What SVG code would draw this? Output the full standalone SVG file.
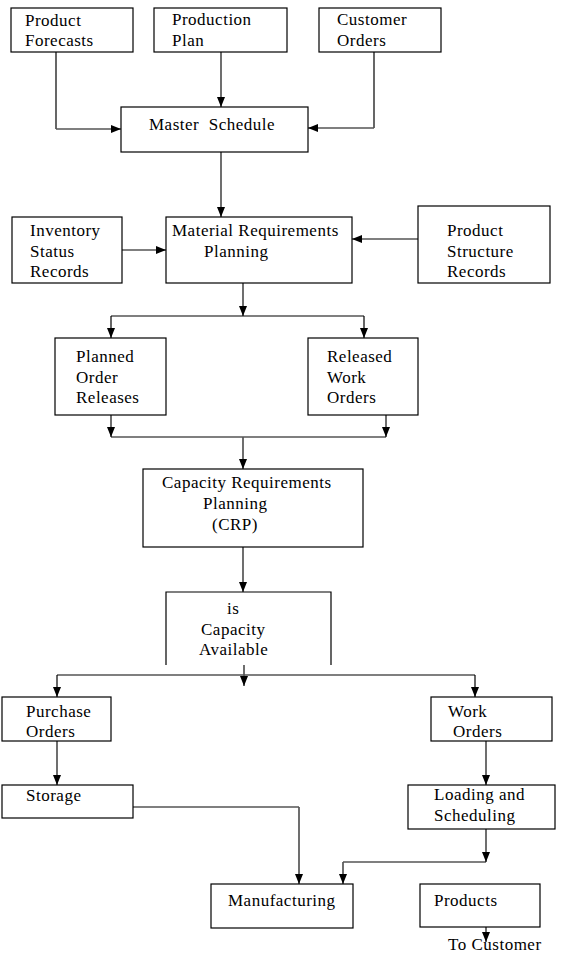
<svg xmlns="http://www.w3.org/2000/svg" width="587" height="957" viewBox="0 0 587 957">
<style>
  .box { fill: #fff; stroke: #000; stroke-width: 1.2; }
  .open { fill: none; stroke: #000; stroke-width: 1.2; }
  text { font-family: "Liberation Serif", "DejaVu Serif", serif; font-size: 17px; letter-spacing: 0.5px; fill: #000; white-space: pre; }
  .k { fill: none; stroke: #000; stroke-width: 1.2; }
  .g { fill: none; stroke: #555; stroke-width: 1.7; }
  .a { marker-end: url(#arr); }
</style>
<defs>
  <marker id="arr" markerUnits="userSpaceOnUse" markerWidth="10" markerHeight="10" viewBox="0 0 10 10" refX="10" refY="5" orient="auto">
    <path d="M0,1 L10,5 L0,9 Z" fill="#000"/>
  </marker>
</defs>
<rect width="587" height="957" fill="#fff"/>

<g id="connectors">
  <path class="k" d="M56,52 V129"/>
  <path class="g a" d="M56,129 H121"/>
  <path class="g a" d="M221,52 V107"/>
  <path class="k" d="M374,52 V128"/>
  <path class="g a" d="M374,128 H308"/>
  <path class="g a" d="M221,152 V217"/>
  <path class="g a" d="M122,250 H166"/>
  <path class="g a" d="M418,239 H352"/>
  <path class="g a" d="M243,283 V316"/>
  <path class="k" d="M111,316 H364"/>
  <path class="k a" d="M111,316 V338"/>
  <path class="k a" d="M364,316 V338"/>
  <path class="g a" d="M111,415 V437"/>
  <path class="g a" d="M386,415 V437"/>
  <path class="k" d="M111,437 H386"/>
  <path class="g a" d="M243,437 V469"/>
  <path class="g a" d="M243,547 V592"/>
  <path class="k" d="M57,675 H475"/>
  <path class="g a" d="M244,665 V686"/>
  <path class="k a" d="M57,675 V697"/>
  <path class="k a" d="M475,675 V697"/>
  <path class="g a" d="M57,741 V785"/>
  <path class="k" d="M133,807 H299"/>
  <path class="g a" d="M299,807 V884"/>
  <path class="g a" d="M486,741 V785"/>
  <path class="g a" d="M486,829 V862"/>
  <path class="k" d="M486,862 H343"/>
  <path class="g a" d="M343,862 V884"/>
  <path class="g a" d="M486,927 V942"/>
</g>

<g id="product-forecasts">
  <rect class="box" x="11" y="8" width="122" height="44"/>
  <text x="25" y="26">Product</text>
  <text x="25" y="46">Forecasts</text>
</g>
<g id="production-plan">
  <rect class="box" x="154" y="8" width="133" height="44"/>
  <text x="172" y="25">Production</text>
  <text x="172" y="46">Plan</text>
</g>
<g id="customer-orders">
  <rect class="box" x="319" y="8" width="122" height="44"/>
  <text x="337" y="25">Customer</text>
  <text x="337" y="46">Orders</text>
</g>
<g id="master-schedule">
  <rect class="box" x="121" y="107" width="187" height="45"/>
  <text x="149" y="130">Master  Schedule</text>
</g>
<g id="inventory-status-records">
  <rect class="box" x="12" y="217" width="110" height="66"/>
  <text x="30" y="236">Inventory</text>
  <text x="30" y="257">Status</text>
  <text x="30" y="277">Records</text>
</g>
<g id="mrp">
  <rect class="box" x="166" y="217" width="186" height="66"/>
  <text x="172" y="236">Material Requirements</text>
  <text x="204" y="257">Planning</text>
</g>
<g id="product-structure-records">
  <rect class="box" x="418" y="206" width="132" height="77"/>
  <text x="447" y="236">Product</text>
  <text x="447" y="257">Structure</text>
  <text x="447" y="277">Records</text>
</g>
<g id="planned-order-releases">
  <rect class="box" x="55" y="338" width="111" height="77"/>
  <text x="76" y="362">Planned</text>
  <text x="76" y="383">Order</text>
  <text x="76" y="403">Releases</text>
</g>
<g id="released-work-orders">
  <rect class="box" x="308" y="338" width="110" height="77"/>
  <text x="327" y="362">Released</text>
  <text x="327" y="383">Work</text>
  <text x="327" y="403">Orders</text>
</g>
<g id="crp">
  <rect class="box" x="143" y="469" width="220" height="78"/>
  <text x="162" y="488">Capacity Requirements</text>
  <text x="203" y="509">Planning</text>
  <text x="212" y="530">(CRP)</text>
</g>
<g id="capacity-available">
  <path class="open" d="M166,665 V592 H331 V665"/>
  <text x="227" y="614">is</text>
  <text x="201" y="635">Capacity</text>
  <text x="199" y="655">Available</text>
</g>
<g id="purchase-orders">
  <rect class="box" x="2" y="697" width="109" height="44"/>
  <text x="26" y="717">Purchase</text>
  <text x="26" y="737">Orders</text>
</g>
<g id="work-orders">
  <rect class="box" x="431" y="697" width="121" height="44"/>
  <text x="448" y="717">Work</text>
  <text x="453" y="737">Orders</text>
</g>
<g id="storage">
  <rect class="box" x="2" y="785" width="131" height="33"/>
  <text x="26" y="801">Storage</text>
</g>
<g id="loading-scheduling">
  <rect class="box" x="408" y="785" width="147" height="44"/>
  <text x="434" y="800">Loading and</text>
  <text x="434" y="821">Scheduling</text>
</g>
<g id="manufacturing">
  <rect class="box" x="211" y="884" width="142" height="44"/>
  <text x="228" y="906">Manufacturing</text>
</g>
<g id="products">
  <rect class="box" x="420" y="884" width="120" height="43"/>
  <text x="434" y="906">Products</text>
</g>
<g id="to-customer">
  <text x="448" y="950">To Customer</text>
</g>
</svg>
